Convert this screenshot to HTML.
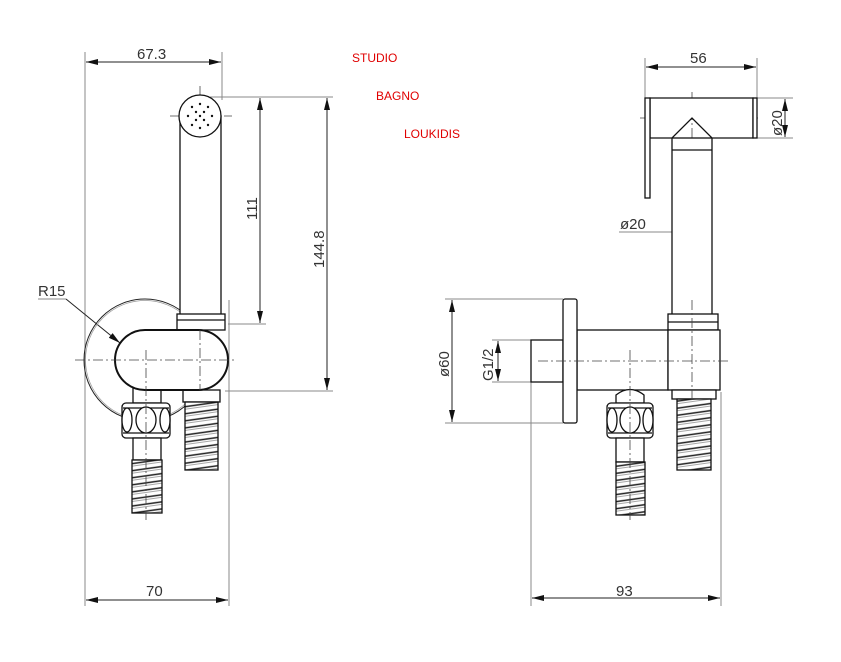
<!DOCTYPE html>
<html><head><meta charset="utf-8"><style>
html,body{margin:0;padding:0;background:#fff;}
svg{display:block}
text{font-family:"Liberation Sans",sans-serif;}
</style></head><body>
<svg width="841" height="662" viewBox="0 0 841 662" xmlns="http://www.w3.org/2000/svg">
<defs>
<marker id="a" viewBox="0 0 12 6" refX="12" refY="3" markerWidth="12" markerHeight="6" orient="auto-start-reverse" markerUnits="userSpaceOnUse"><path d="M0,0 L12,3 L0,6z" fill="#111"/></marker>
<pattern id="hose" width="40" height="7" patternUnits="userSpaceOnUse" patternTransform="rotate(-8)">
<rect width="40" height="7" fill="#fff"/><line x1="0" y1="1.5" x2="40" y2="1.5" stroke="#222" stroke-width="1.5"/><line x1="0" y1="4" x2="40" y2="4" stroke="#888" stroke-width="0.8"/>
</pattern>
</defs>
<g fill="none" stroke="#888" stroke-width="1">
<line x1="85" y1="52" x2="85" y2="606"/>
<line x1="222" y1="52" x2="222" y2="100"/>
<line x1="229" y1="300" x2="229" y2="606"/>
<line x1="210" y1="97" x2="333" y2="97"/>
<line x1="228" y1="324" x2="266" y2="324"/>
<line x1="225" y1="391" x2="333" y2="391"/>
<line x1="38" y1="299" x2="66" y2="299"/>
<line x1="645" y1="58" x2="645" y2="98"/>
<line x1="757" y1="58" x2="757" y2="98"/>
<line x1="757" y1="98" x2="793" y2="98"/>
<line x1="757" y1="138" x2="793" y2="138"/>
<line x1="445" y1="299" x2="563" y2="299"/>
<line x1="445" y1="423" x2="563" y2="423"/>
<line x1="492" y1="340" x2="531" y2="340"/>
<line x1="492" y1="382" x2="531" y2="382"/>
<line x1="531" y1="382" x2="531" y2="606"/>
<line x1="721" y1="392" x2="721" y2="606"/>
<line x1="619" y1="232" x2="672" y2="232"/>
</g>
<g stroke="#222" stroke-width="1" fill="none">
<line x1="86" y1="62" x2="221" y2="62" marker-start="url(#a)" marker-end="url(#a)"/>
<line x1="260" y1="98" x2="260" y2="323" marker-start="url(#a)" marker-end="url(#a)"/>
<line x1="327" y1="98" x2="327" y2="390" marker-start="url(#a)" marker-end="url(#a)"/>
<line x1="86" y1="600" x2="228" y2="600" marker-start="url(#a)" marker-end="url(#a)"/>
<line x1="66" y1="299" x2="120" y2="343" marker-end="url(#a)"/>
<line x1="646" y1="67" x2="756" y2="67" marker-start="url(#a)" marker-end="url(#a)"/>
<line x1="785" y1="99" x2="785" y2="137" marker-start="url(#a)" marker-end="url(#a)"/>
<line x1="452" y1="300" x2="452" y2="422" marker-start="url(#a)" marker-end="url(#a)"/>
<line x1="498" y1="341" x2="498" y2="381" marker-start="url(#a)" marker-end="url(#a)"/>
<line x1="532" y1="598" x2="720" y2="598" marker-start="url(#a)" marker-end="url(#a)"/>
<line x1="672" y1="232" x2="690" y2="232" marker-end="url(#a)"/>
<line x1="712" y1="232" x2="694" y2="232" marker-end="url(#a)"/>
</g>
<!-- big wall circle (double thin line) -->
<circle cx="145" cy="360" r="61" fill="none" stroke="#222" stroke-width="1"/>
<circle cx="145" cy="360" r="59.5" fill="none" stroke="#999" stroke-width="0.7"/>
<g stroke="#444" stroke-width="0.8" stroke-dasharray="10,3,2,3" fill="none">
<line x1="200" y1="86" x2="200" y2="470"/>
<line x1="170" y1="116" x2="232" y2="116"/>
<line x1="692" y1="92" x2="692" y2="470"/>
<line x1="640" y1="118" x2="760" y2="118"/>
</g>
<g stroke="#111" stroke-width="1.3" fill="#fff">
<rect x="180" y="116" width="41" height="200"/>
<circle cx="200" cy="116" r="21"/>
<rect x="177" y="314" width="48" height="16"/>
<line x1="177" y1="320" x2="225" y2="320"/>
<rect x="183" y="390" width="37" height="12"/>
<rect x="185" y="402" width="33" height="68" fill="url(#hose)"/>
<rect x="133" y="388" width="28" height="15"/>
<rect x="122" y="403" width="48" height="35" rx="4"/>
<line x1="123" y1="408" x2="169" y2="408"/><line x1="123" y1="433" x2="169" y2="433"/>
<ellipse cx="146" cy="420" rx="10" ry="13"/>
<ellipse cx="127" cy="420" rx="5" ry="12"/><ellipse cx="165" cy="420" rx="5" ry="12"/>
<rect x="133" y="438" width="28" height="22"/>
<rect x="132" y="460" width="30" height="53" fill="url(#hose)"/>
<rect x="115" y="330" width="113" height="60" rx="30" stroke-width="2"/>
<rect x="672" y="138" width="40" height="180"/>
<path d="M 650 98 H 753 V 138 H 712 L 692 118 L 672 138 H 650 Z"/>
<line x1="672" y1="150" x2="712" y2="150"/>
<rect x="645" y="98" width="5" height="100"/>
<rect x="753" y="98" width="4" height="40"/>
<rect x="668" y="314" width="50" height="16"/>
<line x1="668" y1="322" x2="718" y2="322"/>
<rect x="577" y="330" width="91" height="60"/>
<rect x="668" y="330" width="52" height="60"/>
<rect x="531" y="340" width="32" height="42"/>
<rect x="563" y="299" width="14" height="124" rx="2"/>
<rect x="672" y="390" width="44" height="9"/>
<rect x="677" y="399" width="34" height="71" fill="url(#hose)"/>
<path d="M 616 403 V 395 Q 630 384 644 395 V 403 Z"/>
<rect x="607" y="403" width="46" height="35" rx="4"/>
<line x1="608" y1="408" x2="652" y2="408"/><line x1="608" y1="433" x2="652" y2="433"/>
<ellipse cx="630" cy="420" rx="10" ry="13"/>
<ellipse cx="612" cy="420" rx="5" ry="12"/><ellipse cx="648" cy="420" rx="5" ry="12"/>
<rect x="616" y="438" width="28" height="24"/>
<rect x="616" y="462" width="29" height="53" fill="url(#hose)"/>
</g>
<g stroke="#444" stroke-width="0.8" stroke-dasharray="10,3,2,3" fill="none">
<line x1="75" y1="360" x2="237" y2="360"/>
<line x1="146" y1="350" x2="146" y2="520"/>
<line x1="538" y1="361" x2="728" y2="361"/>
<line x1="630" y1="350" x2="630" y2="520"/>
<line x1="200" y1="330" x2="200" y2="390"/>
<line x1="692" y1="300" x2="692" y2="400"/>
</g>
<g fill="#111">
<circle cx="200" cy="104" r="1.2"/><circle cx="200" cy="128" r="1.2"/><circle cx="188" cy="116" r="1.2"/><circle cx="212" cy="116" r="1.2"/>
<circle cx="192" cy="107" r="1.2"/><circle cx="208" cy="107" r="1.2"/><circle cx="192" cy="125" r="1.2"/><circle cx="208" cy="125" r="1.2"/>
<circle cx="196" cy="112" r="1.2"/><circle cx="204" cy="112" r="1.2"/><circle cx="196" cy="120" r="1.2"/><circle cx="204" cy="120" r="1.2"/>
<circle cx="200" cy="116" r="1.2"/>
</g>
<g font-size="15" fill="#333">
<text x="137" y="59">67.3</text>
<text x="146" y="596">70</text>
<text x="38" y="296">R15</text>
<text x="690" y="63">56</text>
<text x="616" y="596">93</text>
<text x="620" y="229">ø20</text>
<text transform="translate(257,220) rotate(-90)">111</text>
<text transform="translate(324,268) rotate(-90)">144.8</text>
<text transform="translate(782,136) rotate(-90)">ø20</text>
<text transform="translate(449,377) rotate(-90)">ø60</text>
<text transform="translate(493,381) rotate(-90)">G1/2</text>
</g>
<g font-size="12" fill="#e00000">
<text x="352" y="62">STUDIO</text>
<text x="376" y="100">BAGNO</text>
<text x="404" y="138">LOUKIDIS</text>
</g>
</svg>
</body></html>
